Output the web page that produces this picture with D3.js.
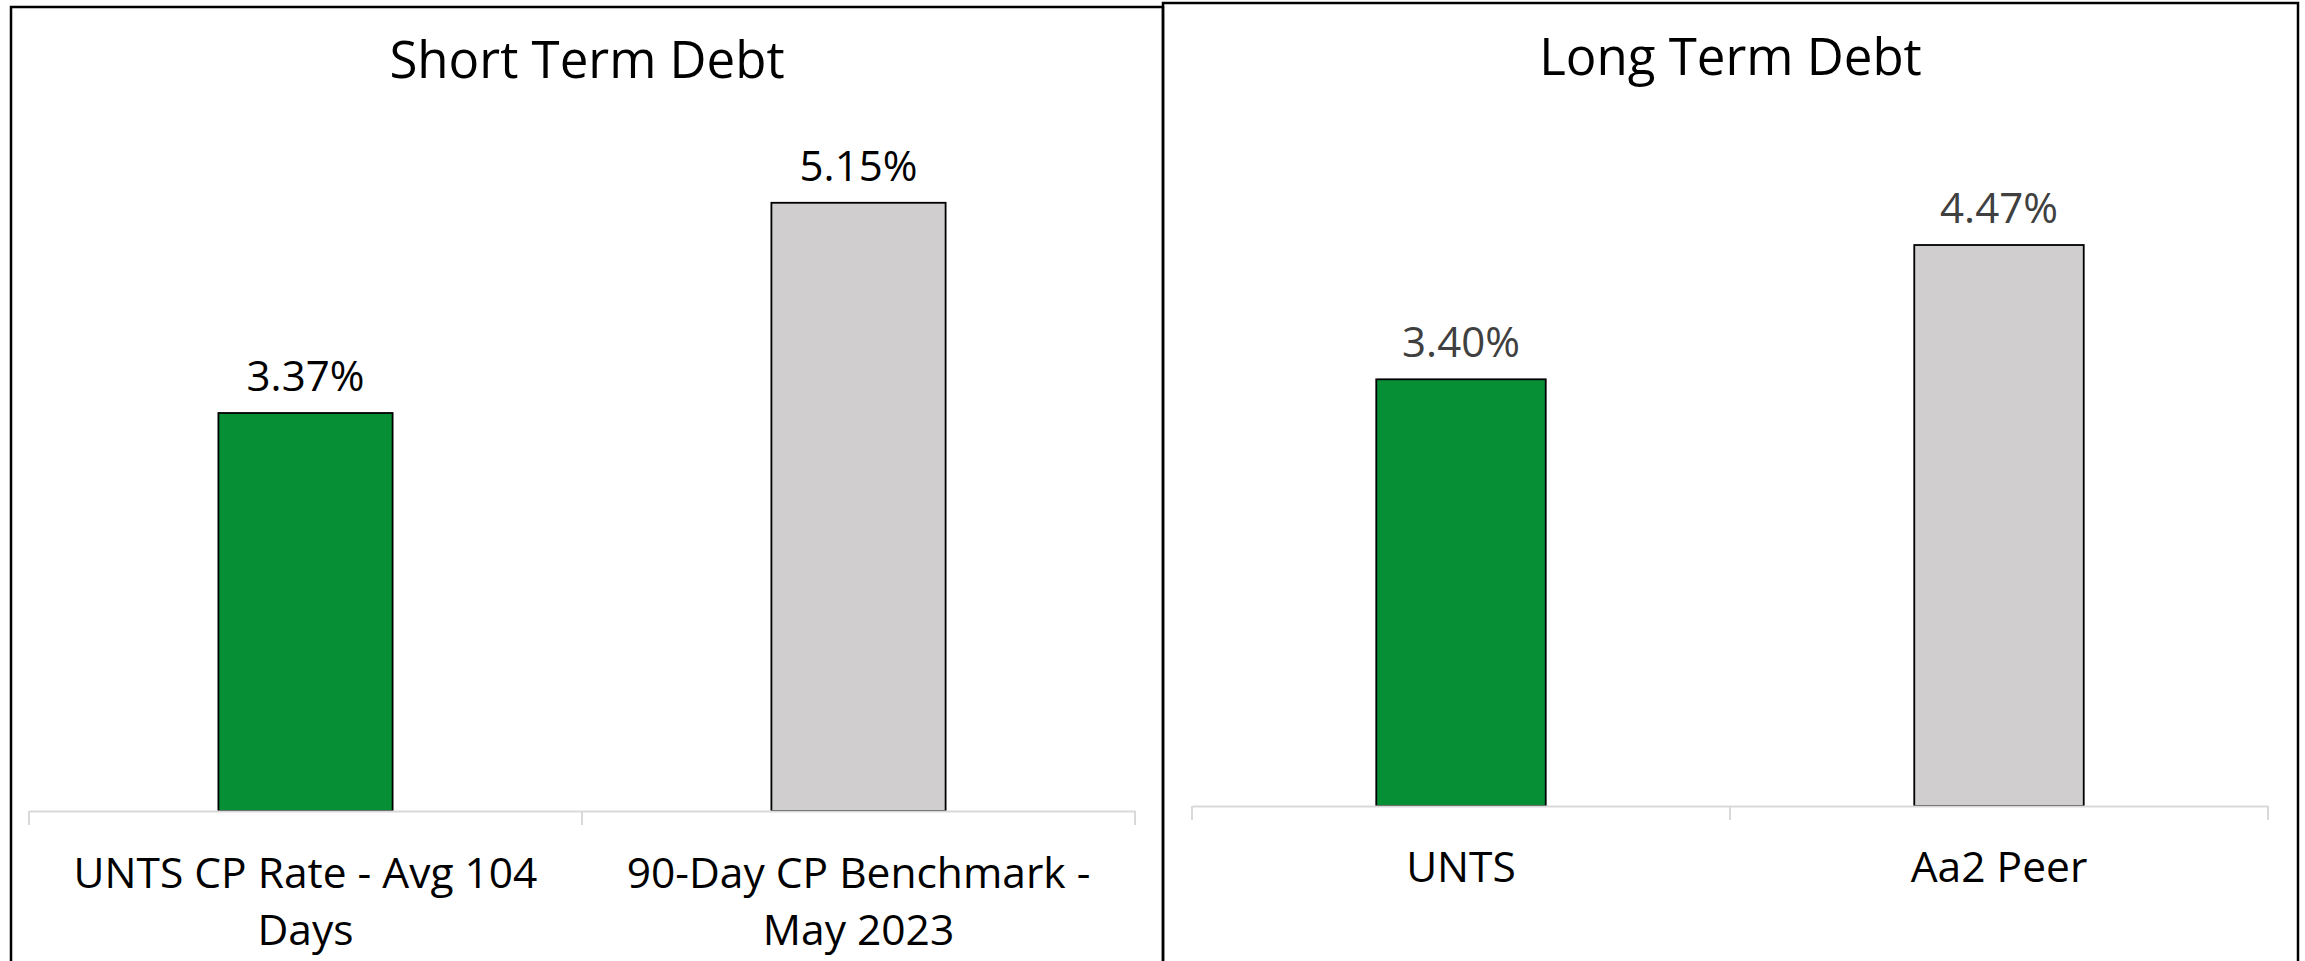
<!DOCTYPE html>
<html>
<head>
<meta charset="utf-8">
<script src="https://cdn.jsdelivr.net/npm/d3@7"></script>
<style>
  html, body { margin: 0; padding: 0; background: #fff; }
  svg { display: block; font-family: "Open Sans", sans-serif; }
</style>
</head>
<body>
<svg id="chart" width="2305" height="961"></svg>
<script>
// ---- data ----
const shortTitle = "Short Term Debt";
const shortCategories = ["UNTS CP Rate - Avg 104 Days", "90-Day CP Benchmark - May 2023"];
const shortValues = [3.37, 5.15];

const longTitle = "Long Term Debt";
const longCategories = ["UNTS", "Aa2 Peer"];
const longValues = [3.40, 4.47];

const barColors = ["#078f36", "#d0cece"];

// ---- drawing ----
const svg = d3.select("#chart");

function wrapLines(textSel, str, maxW) {
  const words = str.split(" ");
  const lines = [];
  let cur = "";
  const probe = textSel.append("tspan");
  words.forEach(w => {
    const test = cur ? cur + " " + w : w;
    probe.text(test);
    if (probe.node().getComputedTextLength() > maxW && cur) {
      lines.push(cur);
      cur = w;
    } else {
      cur = test;
    }
  });
  if (cur) lines.push(cur);
  probe.remove();
  return lines;
}

function panel(cfg) {
  const g = svg.append("g");
  // frame
  g.append("rect")
    .attr("x", cfg.frame[0]).attr("y", cfg.frame[1])
    .attr("width", cfg.frame[2] - cfg.frame[0])
    .attr("height", 1000)
    .attr("fill", "none")
    .attr("stroke", "#000")
    .attr("stroke-width", 2.5);

  const x = d3.scaleBand().domain(cfg.categories).range(cfg.xRange).padding(0);
  const y = d3.scaleLinear().domain(cfg.yDomain).range(cfg.yRange);
  const barW = x.bandwidth() * 0.315;

  // title
  g.append("text")
    .attr("x", (cfg.frame[0] + cfg.frame[2]) / 2)
    .attr("y", cfg.titleY)
    .attr("text-anchor", "middle")
    .attr("font-size", 51)
    .attr("fill", "#000")
    .text(cfg.title);

  // bars
  g.selectAll("rect.bar")
    .data(cfg.values)
    .join("rect")
    .attr("class", "bar")
    .attr("x", (d, i) => x(cfg.categories[i]) + x.bandwidth() / 2 - barW / 2)
    .attr("y", d => y(d))
    .attr("width", barW)
    .attr("height", d => y(0) - y(d))
    .attr("fill", (d, i) => barColors[i])
    .attr("stroke", "#000")
    .attr("stroke-width", 1.8);

  // axis line with boundary ticks
  const axis = d3.axisBottom(x).tickSize(0).tickFormat("").tickSizeOuter(0);
  const ag = g.append("g").attr("transform", `translate(0,${y(0)})`).call(axis);
  ag.select(".domain").attr("stroke", "#d9d9d9").attr("stroke-width", 2);
  const bounds = [cfg.xRange[0]].concat(cfg.categories.map(c => x(c) + x.bandwidth()));
  ag.selectAll("line.bound")
    .data(bounds)
    .join("line")
    .attr("class", "bound")
    .attr("x1", d => d).attr("x2", d => d)
    .attr("y1", 0).attr("y2", 14)
    .attr("stroke", "#d9d9d9")
    .attr("stroke-width", 2);

  // data labels
  g.selectAll("text.val")
    .data(cfg.values)
    .join("text")
    .attr("class", "val")
    .attr("x", (d, i) => x(cfg.categories[i]) + x.bandwidth() / 2)
    .attr("y", d => y(d) - 22)
    .attr("text-anchor", "middle")
    .attr("font-size", 42)
    .attr("fill", cfg.valueColor)
    .text(d => d.toFixed(2) + "%");

  // category labels
  cfg.categories.forEach(c => {
    const t = g.append("text")
      .attr("text-anchor", "middle")
      .attr("font-size", 42.5)
      .attr("fill", "#000");
    const lines = wrapLines(t, c, x.bandwidth() - 40);
    lines.forEach((ln, k) => {
      t.append("tspan")
        .attr("x", x(c) + x.bandwidth() / 2)
        .attr("y", y(0) + cfg.labelDy + k * 57)
        .text(ln);
    });
  });
}

panel({
  frame: [11, 7, 1163],
  title: shortTitle,
  titleY: 78,
  categories: shortCategories,
  values: shortValues,
  xRange: [29, 1135],
  yDomain: [0, 6],
  yRange: [811, 811 - 6 * 118.1],
  valueColor: "#000",
  labelDy: 77
});

panel({
  frame: [1163, 3, 2298],
  title: longTitle,
  titleY: 75,
  categories: longCategories,
  values: longValues,
  xRange: [1192, 2268],
  yDomain: [0, 5],
  yRange: [806, 806 - 5 * 125.5],
  valueColor: "#404040",
  labelDy: 76
});
</script>
</body>
</html>
